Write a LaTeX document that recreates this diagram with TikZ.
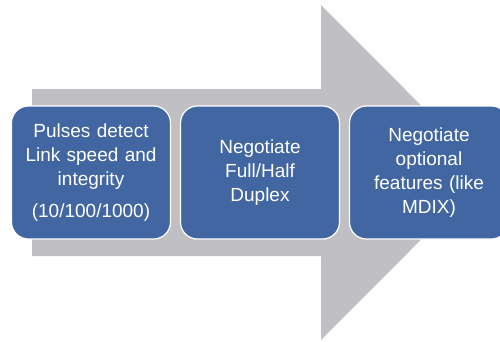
\documentclass[tikz,border=0pt]{standalone}
\usepackage{fontspec}
\setmainfont{Liberation Sans}
\usetikzlibrary{positioning}

\definecolor{stepblue}{HTML}{4266A1}
\definecolor{arrowgrey}{HTML}{C0BFC4}

\tikzset{
    phasebox/.style={draw=white, line width=1.2pt, fill=stepblue, rounded corners=17pt,
        minimum width=159pt, minimum height=133pt, text width=150pt, align=center,
        text=white, font=\fontsize{19}{24}\selectfont, inner sep=0pt}
}

\begin{document}
\begin{tikzpicture}[x=1pt, y=-1pt]
                    \useasboundingbox (0, 0) rectangle (500, 341);
                    \clip (0, 0) rectangle (500, 341);

                    % big grey arrow behind the boxes
                    \coordinate(A)at(32, 89);
                    \coordinate(B)at(321, 89);
                    \coordinate(C)at(321, 5);
                    \coordinate(D)at(488, 172.5);
                    \coordinate(E)at(321, 340);
                    \coordinate(F)at(321, 256);
                    \coordinate(G)at(32, 256);
                    \fill[arrowgrey](A)--(B)--(C)--(D)--(E)--(F)--(G)--cycle;

                    \node[phasebox](pulses)at(91, 172.5){Pulses detect\\ Link speed and\\ integrity\\[8pt] (10/100/1000)};
                    \node[phasebox](duplex)at(260, 172.5){Negotiate\\ Full/Half\\ Duplex};
                    \node[phasebox](features)at(429, 172.5){Negotiate\\ optional\\ features (like\\ MDIX)};
                \end{tikzpicture}
\end{document}
